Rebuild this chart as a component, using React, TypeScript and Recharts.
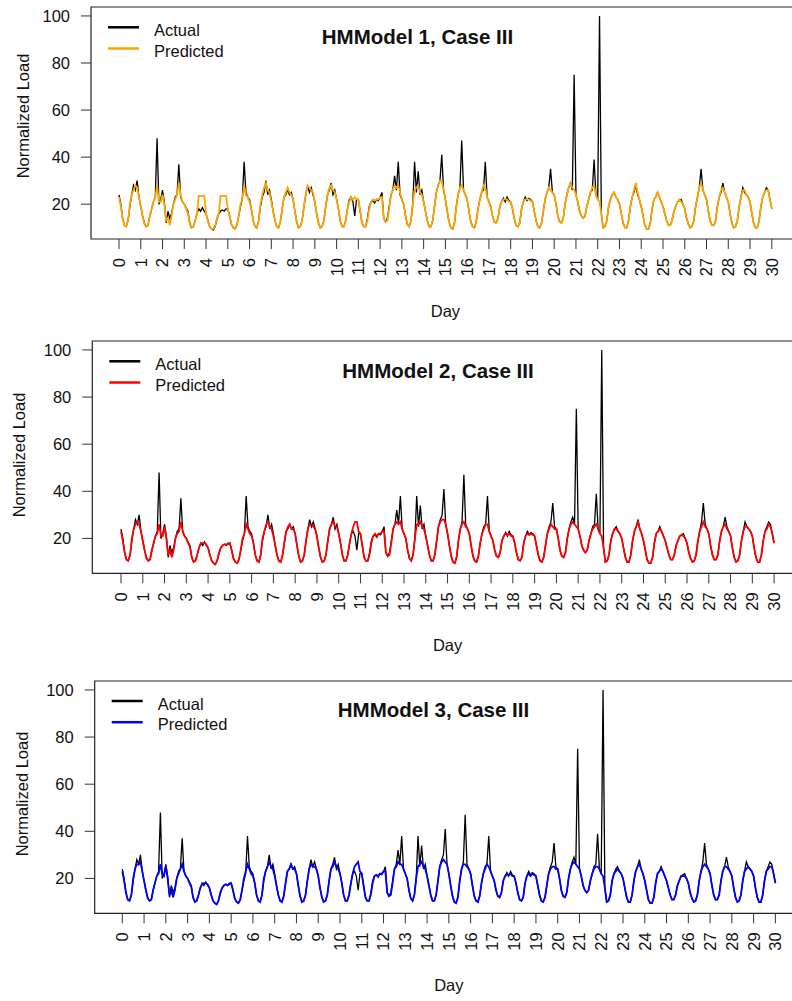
import { LineChart, Line, XAxis, YAxis, ReferenceArea } from 'recharts'

// one row per day, 12 samples a day (every 2 hours)
const ACTUAL_LOAD = [
  [24, 20, 14, 11, 10.5, 13, 19, 24, 28, 26, 30, 23],
  [19, 15, 12, 10.5, 11, 15, 18, 21, 23, 48, 20, 22],
  [26, 21, 12, 17, 14, 16, 20, 23, 24, 37, 23, 21],
  [20, 18.5, 17, 12, 10, 10.5, 13, 16, 18, 17, 18.5, 17],
  [16, 13, 10.5, 9.5, 9, 10.5, 13.5, 16, 17, 17.5, 17, 18],
  [18, 15, 11.5, 10, 9.5, 11, 15, 19, 22, 38, 25, 23],
  [22, 18, 13, 10.5, 10, 13, 19, 23, 25, 30, 24, 26],
  [22, 17, 13, 10.5, 10, 12.5, 18, 23, 24, 26, 24, 25],
  [22, 17, 12.5, 10, 10.5, 13, 19, 24, 28, 25, 27, 24],
  [21, 16, 12, 10, 10.5, 13, 19, 24, 26, 29, 24, 26],
  [22, 18, 13, 10.5, 10.5, 13, 18, 22, 23, 21, 15, 22],
  [22, 17, 12, 10.5, 10.5, 14, 19, 21, 21.5, 20.5, 22, 21.5],
  [23, 25, 14, 12.5, 14, 19, 24, 26, 32, 26, 38, 24],
  [22, 20, 15, 11.5, 10.5, 13, 20, 38, 25, 34, 24, 26],
  [21, 17, 13, 10.5, 10.5, 13, 19, 25, 28, 30, 41, 26],
  [22, 17, 12.5, 10, 9.5, 12, 19, 24, 27, 47, 26, 24],
  [22, 17, 12.5, 10.5, 10, 12.5, 18, 22, 25, 26, 38, 23],
  [21, 19, 15, 12.5, 12, 14, 19, 21, 22.5, 21, 23, 21.5],
  [21, 18, 14, 11, 10.5, 12, 18, 21, 23, 21.5, 22.5, 22],
  [21, 17, 13, 10.5, 10, 12, 17, 22, 25, 27, 35, 25],
  [24, 20, 15, 12.5, 12, 14, 20, 24, 27, 29, 26, 75],
  [24, 21, 17, 15, 14, 15, 19, 22, 25, 26, 39, 24],
  [22, 100, 16, 10, 10.5, 13, 19, 22, 24, 25, 23, 22],
  [20, 16, 12, 10, 10, 13, 19, 23, 25, 28, 24, 22],
  [19, 15, 11, 9.5, 9.5, 12, 18, 22, 23, 25, 23, 21],
  [19, 16, 13, 11, 11, 13, 17, 19, 21, 21.5, 22, 20],
  [18, 14, 11.5, 10, 10.5, 13, 19, 23, 27, 35, 26, 24],
  [22, 17, 13, 11, 11, 13, 19, 23, 25, 29, 25, 23],
  [21, 16, 12, 10, 10.5, 13, 19, 23, 27, 25, 24, 23],
  [21, 16, 12, 10, 10, 13, 19, 23, 25, 27, 26, 22],
  [18],
]

const PRED_MODEL_1 = [
  [23, 19, 14, 11, 10.5, 13, 20, 24, 26, 28, 27, 23],
  [19, 15, 11.5, 10.5, 11, 15, 18, 21, 23, 28, 21, 21],
  [24, 20, 13, 14, 11, 15, 20, 22, 24, 29, 24, 21],
  [20, 18, 16, 12, 10, 10.5, 13, 16, 23.5, 23.5, 23.5, 23.5],
  [16, 13, 10.5, 9.5, 9.5, 11, 14, 16, 23.5, 23.5, 23.5, 23.5],
  [18, 15, 11.5, 10, 9.5, 11, 15, 20, 22, 28, 24, 23],
  [21, 18, 13, 10.5, 10, 13, 20, 24, 27, 29, 26, 25],
  [21, 17, 13, 10.5, 10, 12.5, 18, 23, 25, 27, 25, 24],
  [22, 17, 12.5, 10, 10.5, 13, 19, 24, 28, 27, 26, 25],
  [21, 16, 12, 10, 10.5, 13, 19, 24, 27, 28, 26, 25],
  [22, 18, 13, 10.5, 10.5, 13, 18, 21, 23, 22, 23, 22],
  [22, 17, 12, 10.5, 10.5, 13, 18, 21, 22, 21.5, 22, 22],
  [23, 23, 14, 12.5, 13, 18, 24, 26, 28, 27, 28, 25],
  [22, 20, 15, 11.5, 10.5, 13, 20, 26, 27, 28, 25, 24],
  [21, 17, 13, 10.5, 10.5, 13, 19, 25, 28, 30, 30, 26],
  [22, 17, 12.5, 10, 9.5, 12, 19, 24, 27, 28, 26, 24],
  [22, 17, 12.5, 10.5, 10, 12.5, 18, 22, 25, 28, 27, 23],
  [21, 19, 15, 12.5, 12, 14, 19, 21, 22, 22, 22, 21],
  [21, 18, 14, 11, 10.5, 12, 18, 21, 22, 22, 22, 21.5],
  [21, 17, 13, 10.5, 10, 12, 17, 22, 25, 27, 26, 25],
  [24, 20, 15, 12.5, 12, 14, 20, 24, 27, 29, 27, 26],
  [24, 21, 17, 15, 14, 15, 19, 22, 25, 27, 28, 24],
  [22, 21, 16, 10, 10.5, 13, 19, 22, 24, 25, 23, 22],
  [20, 16, 12, 10, 10, 13, 19, 23, 26, 29, 25, 22],
  [19, 15, 11, 9.5, 9.5, 12, 18, 22, 23, 25, 23, 21],
  [19, 16, 13, 11, 11, 13, 17, 19, 21, 22, 21, 20],
  [18, 14, 11.5, 10, 10.5, 13, 19, 23, 27, 29, 26, 24],
  [22, 17, 13, 11, 11, 13, 19, 23, 26, 27, 25, 23],
  [21, 16, 12, 10, 10.5, 13, 19, 23, 26, 26, 24, 23],
  [21, 16, 12, 10, 10, 13, 19, 23, 25, 26, 26, 22],
  [18],
]

const PRED_MODEL_2 = [
  [23, 19, 14, 11, 10.5, 13, 20, 24, 26, 27, 26, 23],
  [19, 15, 11.5, 10.5, 11, 15, 18, 21, 22, 26, 21, 21],
  [25, 20, 13, 15, 12, 15, 20, 22, 23, 27, 23, 21],
  [20, 18, 16.5, 12, 10, 10.5, 13, 16, 18, 18, 18, 17.5],
  [16, 13, 10.5, 9.5, 9, 10.5, 14, 16, 17, 17.5, 17.5, 17.5],
  [18, 15, 11.5, 10, 9.5, 11, 15, 20, 22, 26, 24, 22],
  [21, 18, 13, 10.5, 10, 13, 20, 23, 26, 27, 25, 24],
  [21, 17, 13, 10.5, 10, 12.5, 18, 23, 25, 26, 24, 24],
  [22, 17, 12.5, 10, 10.5, 13, 19, 24, 26, 26, 25, 24],
  [21, 16, 12, 10, 10.5, 13, 19, 24, 26, 27, 25, 25],
  [22, 18, 13, 10.5, 10.5, 13, 18, 22, 25, 27, 27, 23],
  [22, 17, 12, 10.5, 10.5, 13, 18, 21, 22, 21, 22, 22],
  [23, 23, 14, 12.5, 13, 18, 24, 26, 27, 26, 27, 24],
  [22, 20, 15, 11.5, 10.5, 13, 20, 26, 26, 27, 25, 24],
  [21, 17, 13, 10.5, 10.5, 13, 19, 25, 27, 28, 28, 26],
  [22, 17, 12.5, 10, 9.5, 12, 19, 24, 26, 27, 25, 24],
  [22, 17, 12.5, 10.5, 10, 12.5, 18, 22, 24, 26, 26, 23],
  [21, 19, 15, 12.5, 12, 14, 19, 21, 22, 21.5, 22, 21],
  [21, 18, 14, 11, 10.5, 12, 18, 21, 22, 21.5, 22, 21.5],
  [21, 17, 13, 10.5, 10, 12, 17, 22, 24, 26, 25, 24],
  [24, 20, 15, 12.5, 12, 14, 20, 24, 26, 27, 26, 25],
  [24, 21, 17, 15, 14, 15, 19, 22, 24, 25, 26, 24],
  [22, 21, 16, 10, 10.5, 13, 19, 22, 24, 24, 23, 22],
  [20, 16, 12, 10, 10, 13, 19, 23, 25, 27, 24, 22],
  [19, 15, 11, 9.5, 9.5, 12, 18, 22, 23, 24, 23, 21],
  [19, 16, 13, 11, 11, 13, 17, 19, 21, 21.5, 21, 20],
  [18, 14, 11.5, 10, 10.5, 13, 19, 23, 25, 27, 25, 24],
  [22, 17, 13, 11, 11, 13, 19, 23, 25, 26, 24, 23],
  [21, 16, 12, 10, 10.5, 13, 19, 23, 25, 25, 24, 23],
  [21, 16, 12, 10, 10, 13, 19, 23, 24, 26, 25, 22],
  [18],
]

const PRED_MODEL_3 = [
  [23, 19, 14, 11, 10.5, 13, 20, 24, 26, 26, 27, 23],
  [19, 15, 11.5, 10.5, 11, 15, 18, 21, 22, 26, 22, 21],
  [25, 20, 13, 15, 12, 15, 20, 22, 24, 26, 23, 21],
  [20, 18, 16.5, 12, 10, 10.5, 13, 16, 17.5, 18, 18, 17.5],
  [16, 13, 10.5, 9.5, 9, 10.5, 14, 16, 17, 17.5, 17, 17.5],
  [18, 15, 11.5, 10, 9.5, 11, 15, 20, 23, 26, 24, 22],
  [21, 18, 13, 10.5, 10, 13, 20, 23, 25, 27, 25, 24],
  [21, 17, 13, 10.5, 10, 12.5, 18, 23, 24, 26, 24, 24],
  [22, 17, 12.5, 10, 10.5, 13, 19, 24, 26, 25, 25, 24],
  [21, 16, 12, 10, 10.5, 13, 19, 24, 25, 27, 25, 24],
  [22, 18, 13, 10.5, 10.5, 13, 18, 22, 25, 26, 27, 23],
  [22, 17, 12, 10.5, 10.5, 13, 18, 21, 21.5, 21, 22, 22],
  [23, 23, 14, 12.5, 13, 18, 24, 25, 27, 26, 26, 24],
  [22, 20, 15, 11.5, 10.5, 13, 20, 25, 26, 27, 25, 24],
  [21, 17, 13, 10.5, 10.5, 13, 19, 25, 27, 28, 27, 26],
  [22, 17, 12.5, 10, 9.5, 12, 19, 24, 26, 26, 25, 24],
  [22, 17, 12.5, 10.5, 10, 12.5, 18, 22, 24, 26, 25, 23],
  [21, 19, 15, 12.5, 12, 14, 19, 21, 21.5, 21.5, 22, 21],
  [21, 18, 14, 11, 10.5, 12, 18, 21, 22, 21, 22, 21.5],
  [21, 17, 13, 10.5, 10, 12, 17, 22, 24, 25, 25, 24],
  [24, 20, 15, 12.5, 12, 14, 20, 24, 26, 27, 26, 25],
  [24, 21, 17, 15, 14, 15, 19, 22, 24, 25, 25, 24],
  [22, 21, 16, 10, 10.5, 13, 19, 22, 23, 24, 23, 22],
  [20, 16, 12, 10, 10, 13, 19, 23, 25, 26, 24, 22],
  [19, 15, 11, 9.5, 9.5, 12, 18, 22, 23, 24, 23, 21],
  [19, 16, 13, 11, 11, 13, 17, 19, 21, 21, 21, 20],
  [18, 14, 11.5, 10, 10.5, 13, 19, 23, 25, 26, 25, 24],
  [22, 17, 13, 11, 11, 13, 19, 23, 25, 25, 24, 23],
  [21, 16, 12, 10, 10.5, 13, 19, 23, 24, 25, 24, 23],
  [21, 16, 12, 10, 10, 13, 19, 23, 24, 25, 25, 22],
  [18],
]

const SAMPLES_PER_DAY = 12
const DAY_TICKS = [0, 1, 2, 3, 4, 5, 6, 7, 8, 9, 10, 11, 12, 13, 14, 15, 16, 17, 18, 19, 20, 21, 22, 23, 24, 25, 26, 27, 28, 29, 30]
const LOAD_TICKS = [20, 40, 60, 80, 100]
const Y_DOMAIN: [number, number] = [5.2, 103.8]
const X_MAX = 31.2
const FONT = '"Liberation Sans", Arial, sans-serif'
const FS = 16.5
const Y_AXIS_W = 60
const X_AXIS_H = 60

const PANELS = [
  { title: 'HMModel 1, Case III', pred: PRED_MODEL_1, color: '#FFA500',
    boxLeft: 91, boxTop: 7, boxBottom: 239, tick0: 119, spacing: 21.76, titleX: 417.5, yLabelX: 29.4, yLabelY: 116 },
  { title: 'HMModel 2, Case III', pred: PRED_MODEL_2, color: '#FF0000',
    boxLeft: 92.3, boxTop: 341, boxBottom: 573.3, tick0: 121, spacing: 21.77, titleX: 438, yLabelX: 25.4, yLabelY: 455 },
  { title: 'HMModel 3, Case III', pred: PRED_MODEL_3, color: '#0000FF',
    boxLeft: 94.7, boxTop: 680.7, boxBottom: 913, tick0: 122.3, spacing: 21.77, titleX: 433.5, yLabelX: 28.4, yLabelY: 794 },
]

const actualFlat = ACTUAL_LOAD.flat()

function DayTick(props: any) {
  const { x, y, payload } = props
  return (
    <text x={x} y={y} transform={`rotate(-90 ${x} ${y})`} textAnchor="end" dy="0.36em"
      fontSize={FS} fontFamily={FONT} fill="#111">
      {payload.value}
    </text>
  )
}

function Panel({ p }: { p: (typeof PANELS)[number] }) {
  const predFlat = p.pred.flat()
  const data = actualFlat.map((a, i) => ({ day: i / SAMPLES_PER_DAY, actual: a, pred: predFlat[i] }))
  const xMin = -(p.tick0 - p.boxLeft) / p.spacing
  const plotW = (X_MAX - xMin) * p.spacing
  const plotH = p.boxBottom - p.boxTop
  const top = 7
  const bottom = 30
  const width = p.boxLeft + plotW + 10

  return (
    <div style={{ position: 'absolute', left: 0, top: p.boxTop - top }}>
      <LineChart width={width} height={plotH + top + bottom + X_AXIS_H} data={data}
        margin={{ top, left: p.boxLeft - Y_AXIS_W, right: 10, bottom }}>
        <XAxis type="number" dataKey="day" domain={[xMin, X_MAX]} allowDataOverflow ticks={DAY_TICKS}
          interval={0} height={X_AXIS_H} axisLine={false} tickSize={10} tickMargin={9}
          tickLine={{ stroke: '#333' }} tick={<DayTick />} />
        <YAxis type="number" domain={Y_DOMAIN} allowDataOverflow ticks={LOAD_TICKS} width={Y_AXIS_W}
          axisLine={false} tickSize={10} tickMargin={11} tickLine={{ stroke: '#333' }}
          tick={{ fill: '#111', fontSize: FS, fontFamily: FONT }} />
        <ReferenceArea x1={xMin} x2={X_MAX} y1={Y_DOMAIN[0]} y2={Y_DOMAIN[1]} ifOverflow="visible"
          fill="none" stroke="#222" strokeWidth={1.2} />
        <Line type="linear" dataKey="actual" stroke="#000" strokeWidth={1.3} dot={false} isAnimationActive={false} />
        <Line type="linear" dataKey="pred" stroke={p.color} strokeWidth={1.8} dot={false} isAnimationActive={false} />
      </LineChart>
    </div>
  )
}

export default function App() {
  return (
    <div style={{ position: 'absolute', left: 0, top: 0, width: 792, height: 1001, overflow: 'hidden', background: '#fff' }}>
      {PANELS.map((p) => <Panel key={p.title} p={p} />)}
      <svg width={792} height={1001} style={{ position: 'absolute', left: 0, top: 0, pointerEvents: 'none' }}>
        {PANELS.map((p) => {
          const lx = p.boxLeft + 17
          const dayX = p.tick0 + 15 * p.spacing
          return (
            <g key={p.title} fontFamily={FONT} fill="#111">
              <text x={p.titleX} y={p.boxTop + 36.5} textAnchor="middle" fontSize={20.5} fontWeight="bold">{p.title}</text>
              <line x1={lx} x2={lx + 31} y1={p.boxTop + 20.3} y2={p.boxTop + 20.3} stroke="#000" strokeWidth={2.5} />
              <line x1={lx} x2={lx + 31} y1={p.boxTop + 41.5} y2={p.boxTop + 41.5} stroke={p.color} strokeWidth={2.5} />
              <text x={p.boxLeft + 63} y={p.boxTop + 29} fontSize={FS}>Actual</text>
              <text x={p.boxLeft + 63} y={p.boxTop + 49.5} fontSize={FS}>Predicted</text>
              <text x={p.yLabelX} y={p.yLabelY} transform={`rotate(-90 ${p.yLabelX} ${p.yLabelY})`}
                textAnchor="middle" fontSize={FS}>Normalized Load</text>
              <text x={dayX} y={p.boxBottom + 78} textAnchor="middle" fontSize={FS}>Day</text>
            </g>
          )
        })}
      </svg>
    </div>
  )
}
